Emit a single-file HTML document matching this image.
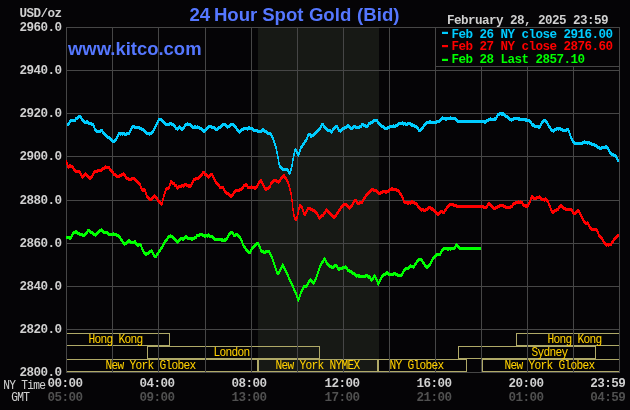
<!DOCTYPE html>
<html lang="en"><head><meta charset="utf-8"><title>24 Hour Spot Gold (Bid)</title>
<style>
html,body{margin:0;padding:0;background:#050406;}
body{width:630px;height:410px;overflow:hidden;}
#chart{display:block;width:630px;height:410px;overflow:hidden;background:#050406;}
#chart svg{display:block;}
text{white-space:pre;}
.m7{font-family:"Liberation Mono",monospace;font-weight:bold;font-size:12.6px;letter-spacing:-0.56px;}
.m6{font-family:"Liberation Mono",monospace;font-weight:normal;font-size:11.2px;letter-spacing:-0.72px;stroke-width:0.05px;}
.ti{font-family:"Liberation Sans",sans-serif;font-weight:bold;font-size:18.6px;}
.kt{font-family:"Liberation Sans",sans-serif;font-weight:bold;font-size:18.45px;}
</style></head><body><div id="chart">
<svg width="630" height="410" viewBox="0 0 630 410">
<rect width="630" height="410" fill="#050406"/>
<rect x="258" y="27" width="121" height="345" fill="#171915"/>
<g fill="none" stroke="#b0aa68" stroke-width="1" shape-rendering="crispEdges">
<rect x="66.5" y="333.5" width="103" height="12"/>
<rect x="516.5" y="333.5" width="103" height="12"/>
<rect x="147.5" y="346.5" width="172" height="12"/>
<rect x="458.5" y="346.5" width="137" height="12"/>
<rect x="66.5" y="359.5" width="191" height="12"/>
<rect x="258.5" y="359.5" width="119" height="12"/>
<rect x="378.5" y="359.5" width="88" height="12"/>
<rect x="482.5" y="359.5" width="137" height="12"/>
</g>
<path d="M66.5 27V373M112.5 27V373M158.5 27V373M205.5 27V373M251.5 27V373M297.5 27V373M343.5 27V373M389.5 27V373M435.5 27V373M481.5 27V373M527.5 27V373M573.5 27V373M619.5 27V373M66 27.5H620M66 70.5H620M66 113.5H620M66 156.5H620M66 200.5H620M66 243.5H620M66 286.5H620M66 329.5H620M66 372.5H620" stroke="#464646" stroke-width="1" fill="none" shape-rendering="crispEdges"/>
<path d="M67 123h1v3h-1zM68 122h1v4h-1zM69 120h1v5h-1zM70 119h1v4h-1zM71 119h4v3h-4zM75 117h1v5h-1zM76 117h1v3h-1zM77 116h1v4h-1zM78 115h1v4h-1zM79 115h1v3h-1zM80 115h1v4h-1zM81 116h1v5h-1zM82 118h1v4h-1zM83 119h1v4h-1zM84 120h1v4h-1zM85 121h1v3h-1zM86 120h2v4h-2zM88 121h1v4h-1zM89 122h2v3h-2zM91 122h1v4h-1zM92 123h1v3h-1zM93 123h1v5h-1zM94 125h1v6h-1zM95 128h1v4h-1zM96 129h1v4h-1zM97 130h3v3h-3zM100 129h1v4h-1zM101 129h1v3h-1zM102 129h1v5h-1zM103 131h1v4h-1zM104 132h1v4h-1zM105 133h1v4h-1zM106 134h1v4h-1zM107 135h1v4h-1zM108 136h1v3h-1zM109 136h1v4h-1zM110 137h1v4h-1zM111 138h1v4h-1zM112 139h1v4h-1zM113 140h1v3h-1zM114 139h1v4h-1zM115 138h1v4h-1zM116 136h1v5h-1zM117 134h1v5h-1zM118 132h1v5h-1zM119 132h1v3h-1zM120 132h1v4h-1zM121 132h1v3h-1zM122 132h1v4h-1zM123 132h1v3h-1zM124 132h1v4h-1zM125 133h1v3h-1zM126 132h1v4h-1zM127 132h2v3h-2zM129 130h1v5h-1zM130 128h1v5h-1zM131 126h1v5h-1zM132 125h1v4h-1zM133 125h1v3h-1zM134 125h1v4h-1zM135 126h4v3h-4zM139 126h1v4h-1zM140 127h1v3h-1zM141 127h1v4h-1zM142 128h1v3h-1zM143 128h1v4h-1zM144 129h1v4h-1zM145 130h1v4h-1zM146 131h1v4h-1zM147 132h2v3h-2zM149 132h1v4h-1zM150 132h1v3h-1zM151 131h1v4h-1zM152 130h1v4h-1zM153 128h1v5h-1zM154 126h1v5h-1zM155 124h1v5h-1zM156 122h1v5h-1zM157 120h1v5h-1zM158 118h1v5h-1zM159 118h2v3h-2zM161 118h1v4h-1zM162 119h1v4h-1zM163 120h1v4h-1zM164 121h1v4h-1zM165 122h1v4h-1zM166 123h3v3h-3zM169 122h1v4h-1zM170 122h1v3h-1zM171 122h1v4h-1zM172 123h1v3h-1zM173 123h1v4h-1zM174 124h1v4h-1zM175 125h1v5h-1zM176 127h1v3h-1zM177 127h1v4h-1zM178 126h1v4h-1zM179 125h1v4h-1zM180 126h1v4h-1zM181 127h2v4h-2zM183 126h1v4h-1zM184 124h1v5h-1zM185 123h1v4h-1zM186 123h1v3h-1zM187 122h1v4h-1zM188 123h2v3h-2zM190 123h1v4h-1zM191 124h1v4h-1zM192 125h1v4h-1zM193 126h1v3h-1zM194 125h2v4h-2zM196 126h1v3h-1zM197 125h1v4h-1zM198 126h1v3h-1zM199 126h1v4h-1zM200 127h1v3h-1zM201 127h1v4h-1zM202 128h1v4h-1zM203 129h2v4h-2zM205 128h1v4h-1zM206 127h1v4h-1zM207 126h1v4h-1zM208 125h1v4h-1zM209 125h2v3h-2zM211 125h1v4h-1zM212 126h2v3h-2zM214 126h1v4h-1zM215 127h1v4h-1zM216 128h1v3h-1zM217 127h1v4h-1zM218 126h1v4h-1zM219 126h1v3h-1zM220 125h1v4h-1zM221 124h1v4h-1zM222 123h1v4h-1zM223 123h2v3h-2zM225 123h1v4h-1zM226 124h1v4h-1zM227 125h1v4h-1zM228 125h1v3h-1zM229 124h1v4h-1zM230 123h1v4h-1zM231 123h2v3h-2zM233 123h1v4h-1zM234 124h1v4h-1zM235 125h1v4h-1zM236 126h1v5h-1zM237 128h1v4h-1zM238 129h1v4h-1zM239 130h1v4h-1zM240 129h1v4h-1zM241 128h1v4h-1zM242 128h1v3h-1zM243 127h1v4h-1zM244 127h3v3h-3zM247 127h1v4h-1zM248 126h2v4h-2zM250 127h2v3h-2zM252 127h1v4h-1zM253 128h1v4h-1zM254 129h3v3h-3zM257 129h1v4h-1zM258 130h3v3h-3zM261 129h1v4h-1zM262 128h2v4h-2zM264 129h1v4h-1zM265 130h1v3h-1zM266 130h1v4h-1zM267 131h1v4h-1zM268 132h2v3h-2zM270 132h1v4h-1zM271 133h1v5h-1zM272 135h1v5h-1zM273 137h1v6h-1zM274 140h1v6h-1zM275 143h1v6h-1zM276 146h1v8h-1zM277 151h1v8h-1zM278 156h1v9h-1zM279 162h1v6h-1zM280 165h1v4h-1zM281 166h1v4h-1zM282 167h1v4h-1zM283 168h4v3h-4zM287 168h1v4h-1zM288 169h1v5h-1zM289 171h1v4h-1zM290 168h1v6h-1zM291 164h1v7h-1zM292 158h1v9h-1zM293 153h1v8h-1zM294 149h1v7h-1zM295 148h1v4h-1zM296 149h1v5h-1zM297 151h1v5h-1zM298 152h1v5h-1zM299 149h1v6h-1zM300 146h1v6h-1zM301 145h1v4h-1zM302 143h1v5h-1zM303 142h1v4h-1zM304 140h1v5h-1zM305 139h1v4h-1zM306 137h1v5h-1zM307 134h1v6h-1zM308 133h1v4h-1zM309 133h1v3h-1zM310 133h1v5h-1zM311 134h1v4h-1zM312 134h1v3h-1zM313 133h1v4h-1zM314 132h1v4h-1zM315 131h1v4h-1zM316 130h1v4h-1zM317 129h1v4h-1zM318 128h1v4h-1zM319 127h1v4h-1zM320 125h1v5h-1zM321 123h1v5h-1zM322 123h1v3h-1zM323 123h1v5h-1zM324 125h1v4h-1zM325 126h1v4h-1zM326 127h1v4h-1zM327 128h1v4h-1zM328 129h2v3h-2zM330 129h1v4h-1zM331 130h1v4h-1zM332 128h1v5h-1zM333 127h1v4h-1zM334 126h1v4h-1zM335 125h1v4h-1zM336 125h1v3h-1zM337 125h1v5h-1zM338 127h1v5h-1zM339 129h1v3h-1zM340 129h1v4h-1zM341 128h1v4h-1zM342 127h1v4h-1zM343 127h1v3h-1zM344 126h1v4h-1zM345 126h1v3h-1zM346 125h1v4h-1zM347 124h2v4h-2zM349 125h1v4h-1zM350 126h1v4h-1zM351 127h1v3h-1zM352 126h1v4h-1zM353 125h1v4h-1zM354 125h1v3h-1zM355 125h1v4h-1zM356 126h3v3h-3zM359 125h1v4h-1zM360 125h1v3h-1zM361 123h1v5h-1zM362 123h1v3h-1zM363 123h1v4h-1zM364 124h1v3h-1zM365 124h1v4h-1zM366 125h1v3h-1zM367 124h1v4h-1zM368 122h1v5h-1zM369 122h1v3h-1zM370 121h1v4h-1zM371 121h1v3h-1zM372 120h1v4h-1zM373 119h1v4h-1zM374 119h3v3h-3zM377 119h1v5h-1zM378 121h1v4h-1zM379 122h1v4h-1zM380 123h1v4h-1zM381 124h1v4h-1zM382 125h1v3h-1zM383 125h1v4h-1zM384 126h1v4h-1zM385 127h2v3h-2zM387 126h1v4h-1zM388 126h1v3h-1zM389 125h1v4h-1zM390 125h3v3h-3zM393 124h1v4h-1zM394 125h1v3h-1zM395 124h1v4h-1zM396 124h1v3h-1zM397 123h1v4h-1zM398 122h1v4h-1zM399 122h3v3h-3zM402 121h1v4h-1zM403 122h1v4h-1zM404 122h1v3h-1zM405 122h1v4h-1zM406 123h1v3h-1zM407 122h1v4h-1zM408 122h2v3h-2zM410 122h1v4h-1zM411 123h2v4h-2zM413 124h1v3h-1zM414 124h1v4h-1zM415 125h1v3h-1zM416 125h1v4h-1zM417 126h1v4h-1zM418 127h1v5h-1zM419 129h1v3h-1zM420 128h1v4h-1zM421 127h1v4h-1zM422 126h1v4h-1zM423 124h1v5h-1zM424 123h1v4h-1zM425 122h1v4h-1zM426 121h1v4h-1zM427 121h2v3h-2zM429 120h2v4h-2zM431 121h5v3h-5zM436 120h1v4h-1zM437 120h2v3h-2zM439 119h1v4h-1zM440 118h1v4h-1zM441 117h1v4h-1zM442 116h1v4h-1zM443 117h2v3h-2zM445 117h2v4h-2zM447 117h3v3h-3zM450 116h1v4h-1zM451 117h4v3h-4zM455 117h1v4h-1zM456 118h1v4h-1zM457 119h1v4h-1zM458 120h26v3h-26zM484 120h2v4h-2zM486 119h1v4h-1zM487 119h1v3h-1zM488 118h1v4h-1zM489 118h1v3h-1zM490 117h1v4h-1zM491 118h3v3h-3zM494 117h2v4h-2zM496 115h1v5h-1zM497 113h1v5h-1zM498 113h1v3h-1zM499 112h1v4h-1zM500 112h1v3h-1zM501 112h3v4h-3zM504 113h1v4h-1zM505 114h1v4h-1zM506 115h1v3h-1zM507 115h1v4h-1zM508 116h1v4h-1zM509 117h1v4h-1zM510 118h1v3h-1zM511 118h1v4h-1zM512 118h1v3h-1zM513 117h1v4h-1zM514 117h4v3h-4zM518 117h2v4h-2zM520 118h5v3h-5zM525 118h2v4h-2zM527 119h2v3h-2zM529 119h1v4h-1zM530 120h1v4h-1zM531 121h1v5h-1zM532 123h2v4h-2zM534 124h1v4h-1zM535 125h3v3h-3zM538 125h2v4h-2zM540 123h1v5h-1zM541 121h1v5h-1zM542 120h1v4h-1zM543 119h1v4h-1zM544 119h1v3h-1zM545 119h1v4h-1zM546 120h1v4h-1zM547 121h1v5h-1zM548 123h1v5h-1zM549 125h1v4h-1zM550 126h1v5h-1zM551 128h1v4h-1zM552 129h1v3h-1zM553 129h1v4h-1zM554 128h1v4h-1zM555 128h1v3h-1zM556 127h1v4h-1zM557 127h1v3h-1zM558 127h1v4h-1zM559 127h1v3h-1zM560 127h1v4h-1zM561 128h1v3h-1zM562 128h1v4h-1zM563 129h3v3h-3zM566 128h1v4h-1zM567 128h1v3h-1zM568 128h1v5h-1zM569 130h1v6h-1zM570 133h1v6h-1zM571 136h1v5h-1zM572 138h1v5h-1zM573 140h1v4h-1zM574 141h1v4h-1zM575 142h7v3h-7zM582 141h1v4h-1zM583 141h1v3h-1zM584 140h1v4h-1zM585 141h2v3h-2zM587 141h1v4h-1zM588 141h1v3h-1zM589 141h1v4h-1zM590 142h1v3h-1zM591 142h1v4h-1zM592 143h2v3h-2zM594 143h1v4h-1zM595 144h1v3h-1zM596 144h1v4h-1zM597 145h1v4h-1zM598 146h1v3h-1zM599 146h1v4h-1zM600 147h1v3h-1zM601 146h1v4h-1zM602 146h3v3h-3zM605 145h2v4h-2zM607 146h1v4h-1zM608 147h1v5h-1zM609 149h1v5h-1zM610 151h1v4h-1zM611 152h1v4h-1zM612 153h1v3h-1zM613 153h1v4h-1zM614 154h1v3h-1zM615 154h1v4h-1zM616 155h1v5h-1zM617 157h1v5h-1zM618 159h1v3h-1z" fill="#00ccff" shape-rendering="crispEdges"/>
<path d="M66 160h1v5h-1zM67 162h1v6h-1zM68 165h1v4h-1zM69 164h2v4h-2zM71 165h1v3h-1zM72 165h1v4h-1zM73 166h1v5h-1zM74 168h1v4h-1zM75 169h1v4h-1zM76 170h3v3h-3zM79 170h1v4h-1zM80 171h1v5h-1zM81 173h1v5h-1zM82 175h1v4h-1zM83 174h1v4h-1zM84 173h1v4h-1zM85 172h1v4h-1zM86 173h1v4h-1zM87 174h1v4h-1zM88 175h1v4h-1zM89 176h2v4h-2zM91 175h1v4h-1zM92 173h1v5h-1zM93 171h1v5h-1zM94 170h1v4h-1zM95 170h2v3h-2zM97 169h1v4h-1zM98 169h3v3h-3zM101 168h1v4h-1zM102 167h1v4h-1zM103 167h1v3h-1zM104 166h1v4h-1zM105 165h1v4h-1zM106 166h3v3h-3zM109 166h1v5h-1zM110 168h1v4h-1zM111 169h1v4h-1zM112 170h1v4h-1zM113 171h1v5h-1zM114 173h1v3h-1zM115 173h1v4h-1zM116 174h1v4h-1zM117 175h2v3h-2zM119 174h1v4h-1zM120 174h1v3h-1zM121 173h1v4h-1zM122 173h1v3h-1zM123 172h1v4h-1zM124 173h1v4h-1zM125 174h1v5h-1zM126 176h1v4h-1zM127 177h1v3h-1zM128 177h1v4h-1zM129 178h2v3h-2zM131 177h1v4h-1zM132 177h2v3h-2zM134 177h1v4h-1zM135 178h1v4h-1zM136 179h1v4h-1zM137 180h1v4h-1zM138 181h1v4h-1zM139 182h1v4h-1zM140 183h1v6h-1zM141 186h1v5h-1zM142 188h3v4h-3zM145 189h1v6h-1zM146 192h1v6h-1zM147 195h1v4h-1zM148 196h1v4h-1zM149 197h1v4h-1zM150 198h1v3h-1zM151 197h1v4h-1zM152 196h1v4h-1zM153 195h1v4h-1zM154 194h1v4h-1zM155 195h1v4h-1zM156 196h1v4h-1zM157 197h1v5h-1zM158 199h1v4h-1zM159 200h1v4h-1zM160 201h1v4h-1zM161 202h1v4h-1zM162 198h1v7h-1zM163 194h1v7h-1zM164 191h1v6h-1zM165 188h1v6h-1zM166 187h1v4h-1zM167 187h1v3h-1zM168 186h1v4h-1zM169 183h1v6h-1zM170 180h1v6h-1zM171 180h1v4h-1zM172 181h1v4h-1zM173 182h1v3h-1zM174 182h1v5h-1zM175 184h1v3h-1zM176 184h1v5h-1zM177 186h1v4h-1zM178 185h1v4h-1zM179 185h2v3h-2zM181 184h1v4h-1zM182 184h1v3h-1zM183 184h1v4h-1zM184 183h1v4h-1zM185 183h1v3h-1zM186 183h1v4h-1zM187 184h1v3h-1zM188 184h3v4h-3zM191 182h1v5h-1zM192 180h1v5h-1zM193 178h1v5h-1zM194 178h1v3h-1zM195 177h1v4h-1zM196 177h2v3h-2zM198 176h1v4h-1zM199 175h1v4h-1zM200 174h1v4h-1zM201 173h1v4h-1zM202 171h1v5h-1zM203 171h1v3h-1zM204 171h1v5h-1zM205 173h1v3h-1zM206 173h1v4h-1zM207 174h1v4h-1zM208 175h1v4h-1zM209 174h1v4h-1zM210 173h1v4h-1zM211 173h1v3h-1zM212 173h1v5h-1zM213 175h1v5h-1zM214 177h1v5h-1zM215 179h1v5h-1zM216 181h1v4h-1zM217 182h1v4h-1zM218 183h1v4h-1zM219 184h1v5h-1zM220 186h3v3h-3zM223 186h1v5h-1zM224 188h1v5h-1zM225 190h1v4h-1zM226 191h1v4h-1zM227 192h1v3h-1zM228 192h1v4h-1zM229 193h1v4h-1zM230 194h2v4h-2zM232 193h1v4h-1zM233 191h1v5h-1zM234 190h1v4h-1zM235 189h1v4h-1zM236 189h3v3h-3zM239 188h1v4h-1zM240 188h1v3h-1zM241 187h1v4h-1zM242 186h1v4h-1zM243 184h1v5h-1zM244 184h1v3h-1zM245 183h2v4h-2zM247 184h1v5h-1zM248 186h3v3h-3zM251 185h1v4h-1zM252 186h2v3h-2zM254 186h2v4h-2zM256 185h1v4h-1zM257 183h1v5h-1zM258 181h1v5h-1zM259 180h1v4h-1zM260 179h1v4h-1zM261 179h1v5h-1zM262 181h1v5h-1zM263 183h1v5h-1zM264 185h1v5h-1zM265 187h2v4h-2zM267 187h1v3h-1zM268 186h1v4h-1zM269 185h1v4h-1zM270 182h1v6h-1zM271 181h1v4h-1zM272 180h1v4h-1zM273 179h1v4h-1zM274 179h2v3h-2zM276 179h1v4h-1zM277 180h1v3h-1zM278 180h1v4h-1zM279 179h1v4h-1zM280 177h1v5h-1zM281 176h1v4h-1zM282 175h1v4h-1zM283 174h1v4h-1zM284 174h1v5h-1zM285 176h1v4h-1zM286 177h1v5h-1zM287 179h1v5h-1zM288 181h1v6h-1zM289 184h1v7h-1zM290 188h1v7h-1zM291 192h1v10h-1zM292 199h1v12h-1zM293 208h1v9h-1zM294 214h1v6h-1zM295 217h1v4h-1zM296 216h1v5h-1zM297 212h1v7h-1zM298 207h1v8h-1zM299 204h1v6h-1zM300 204h1v4h-1zM301 205h1v4h-1zM302 206h1v6h-1zM303 209h1v6h-1zM304 212h1v4h-1zM305 211h1v5h-1zM306 209h1v5h-1zM307 207h1v5h-1zM308 207h2v3h-2zM310 207h1v4h-1zM311 208h1v3h-1zM312 208h1v4h-1zM313 209h1v3h-1zM314 209h1v4h-1zM315 210h1v4h-1zM316 211h1v4h-1zM317 212h1v5h-1zM318 214h1v5h-1zM319 216h1v4h-1zM320 215h1v4h-1zM321 214h1v4h-1zM322 214h1v3h-1zM323 212h1v5h-1zM324 211h1v4h-1zM325 209h1v5h-1zM326 208h1v4h-1zM327 209h1v4h-1zM328 210h1v4h-1zM329 211h1v4h-1zM330 212h1v4h-1zM331 213h1v4h-1zM332 214h1v4h-1zM333 215h2v4h-2zM335 214h1v4h-1zM336 212h1v5h-1zM337 211h1v4h-1zM338 209h1v5h-1zM339 208h1v4h-1zM340 206h1v5h-1zM341 205h1v4h-1zM342 204h1v4h-1zM343 203h1v4h-1zM344 203h2v3h-2zM346 203h1v4h-1zM347 204h1v4h-1zM348 205h1v4h-1zM349 206h1v4h-1zM350 205h1v4h-1zM351 204h1v4h-1zM352 202h1v5h-1zM353 200h1v5h-1zM354 199h1v4h-1zM355 199h1v3h-1zM356 199h1v5h-1zM357 201h1v4h-1zM358 202h1v3h-1zM359 201h1v4h-1zM360 201h2v3h-2zM362 199h1v5h-1zM363 197h1v5h-1zM364 196h1v4h-1zM365 194h1v5h-1zM366 193h1v4h-1zM367 192h1v4h-1zM368 191h1v4h-1zM369 190h1v4h-1zM370 189h1v4h-1zM371 188h1v4h-1zM372 188h1v3h-1zM373 188h1v4h-1zM374 189h2v3h-2zM376 189h1v4h-1zM377 190h1v4h-1zM378 191h1v4h-1zM379 192h1v3h-1zM380 191h1v4h-1zM381 191h1v3h-1zM382 190h1v4h-1zM383 190h2v3h-2zM385 190h2v4h-2zM387 190h1v3h-1zM388 189h1v4h-1zM389 188h1v4h-1zM390 188h1v3h-1zM391 187h2v4h-2zM393 188h3v3h-3zM396 188h1v4h-1zM397 189h1v3h-1zM398 189h1v4h-1zM399 190h1v5h-1zM400 192h1v4h-1zM401 193h1v5h-1zM402 195h1v5h-1zM403 197h1v6h-1zM404 200h1v4h-1zM405 201h2v3h-2zM407 201h2v4h-2zM409 201h1v3h-1zM410 201h1v4h-1zM411 200h2v4h-2zM413 201h1v3h-1zM414 201h1v4h-1zM415 202h1v3h-1zM416 202h1v4h-1zM417 203h1v5h-1zM418 205h1v4h-1zM419 206h1v4h-1zM420 207h1v4h-1zM421 208h1v4h-1zM422 208h1v3h-1zM423 208h1v4h-1zM424 209h1v3h-1zM425 208h1v4h-1zM426 208h1v3h-1zM427 207h1v4h-1zM428 206h1v4h-1zM429 206h1v3h-1zM430 206h1v4h-1zM431 207h2v4h-2zM433 208h1v4h-1zM434 209h1v4h-1zM435 210h1v4h-1zM436 211h1v4h-1zM437 212h2v4h-2zM439 211h1v4h-1zM440 210h1v4h-1zM441 210h1v3h-1zM442 210h1v4h-1zM443 211h1v3h-1zM444 209h1v5h-1zM445 208h1v4h-1zM446 206h1v5h-1zM447 205h1v4h-1zM448 204h1v4h-1zM449 203h1v4h-1zM450 203h3v3h-3zM453 203h1v4h-1zM454 204h2v3h-2zM456 204h1v4h-1zM457 205h26v3h-26zM483 205h1v4h-1zM484 206h2v3h-2zM486 205h1v4h-1zM487 203h1v5h-1zM488 202h2v4h-2zM490 203h1v4h-1zM491 204h1v4h-1zM492 205h1v4h-1zM493 206h1v4h-1zM494 207h1v3h-1zM495 206h1v4h-1zM496 206h1v3h-1zM497 205h1v4h-1zM498 205h1v3h-1zM499 204h1v4h-1zM500 204h3v3h-3zM503 204h1v4h-1zM504 205h1v3h-1zM505 205h1v4h-1zM506 206h4v3h-4zM510 205h1v4h-1zM511 205h1v3h-1zM512 203h1v5h-1zM513 202h1v4h-1zM514 202h1v3h-1zM515 201h1v4h-1zM516 201h2v3h-2zM518 200h1v4h-1zM519 201h1v3h-1zM520 200h1v4h-1zM521 201h1v3h-1zM522 201h1v5h-1zM523 203h1v4h-1zM524 204h1v3h-1zM525 204h3v4h-3zM528 202h1v5h-1zM529 200h1v5h-1zM530 197h1v6h-1zM531 195h1v5h-1zM532 195h1v4h-1zM533 196h1v4h-1zM534 197h2v3h-2zM536 196h1v4h-1zM537 196h2v3h-2zM539 195h1v4h-1zM540 196h1v4h-1zM541 197h1v4h-1zM542 198h2v3h-2zM544 198h1v4h-1zM545 197h1v4h-1zM546 198h1v4h-1zM547 199h1v4h-1zM548 200h1v6h-1zM549 203h1v5h-1zM550 205h1v6h-1zM551 208h1v5h-1zM552 210h2v4h-2zM554 209h1v4h-1zM555 209h1v3h-1zM556 208h1v4h-1zM557 208h1v3h-1zM558 206h1v5h-1zM559 205h1v4h-1zM560 204h2v4h-2zM562 205h1v4h-1zM563 206h1v4h-1zM564 207h1v3h-1zM565 207h1v4h-1zM566 208h5v3h-5zM571 208h1v4h-1zM572 209h1v5h-1zM573 211h1v4h-1zM574 212h1v3h-1zM575 211h1v4h-1zM576 210h1v4h-1zM577 209h2v4h-2zM579 210h1v5h-1zM580 212h1v5h-1zM581 214h1v5h-1zM582 216h1v5h-1zM583 218h1v5h-1zM584 220h1v4h-1zM585 221h1v4h-1zM586 222h1v3h-1zM587 221h1v4h-1zM588 222h1v5h-1zM589 224h1v5h-1zM590 226h1v4h-1zM591 227h1v4h-1zM592 228h4v3h-4zM596 228h1v4h-1zM597 229h1v5h-1zM598 231h1v6h-1zM599 234h1v4h-1zM600 235h1v4h-1zM601 236h1v4h-1zM602 237h1v5h-1zM603 239h1v5h-1zM604 241h1v4h-1zM605 242h1v4h-1zM606 243h1v4h-1zM607 243h1v3h-1zM608 243h1v4h-1zM609 243h2v3h-2zM611 241h1v5h-1zM612 240h1v4h-1zM613 238h1v5h-1zM614 237h1v4h-1zM615 236h1v4h-1zM616 235h1v4h-1zM617 234h1v4h-1zM618 234h1v3h-1z" fill="#ff0000" shape-rendering="crispEdges"/>
<path d="M66 236h3v3h-3zM69 236h2v4h-2zM71 234h1v5h-1zM72 232h1v5h-1zM73 231h1v4h-1zM74 231h1v3h-1zM75 230h2v4h-2zM77 231h1v4h-1zM78 232h1v3h-1zM79 232h1v4h-1zM80 233h2v3h-2zM82 233h1v4h-1zM83 234h1v3h-1zM84 233h1v4h-1zM85 232h1v4h-1zM86 231h1v4h-1zM87 229h1v5h-1zM88 229h1v3h-1zM89 229h1v4h-1zM90 230h1v4h-1zM91 231h1v3h-1zM92 231h1v4h-1zM93 232h1v4h-1zM94 233h1v3h-1zM95 233h1v4h-1zM96 232h1v4h-1zM97 231h1v4h-1zM98 230h1v4h-1zM99 229h1v4h-1zM100 229h1v3h-1zM101 228h1v4h-1zM102 229h1v4h-1zM103 230h1v4h-1zM104 231h3v3h-3zM107 231h1v4h-1zM108 232h1v4h-1zM109 233h4v3h-4zM113 232h1v4h-1zM114 233h2v3h-2zM116 233h1v4h-1zM117 234h1v3h-1zM118 234h1v4h-1zM119 235h1v4h-1zM120 236h1v5h-1zM121 238h1v4h-1zM122 239h1v5h-1zM123 241h1v4h-1zM124 242h1v4h-1zM125 242h1v3h-1zM126 241h1v4h-1zM127 240h1v4h-1zM128 239h2v4h-2zM130 240h1v4h-1zM131 241h3v3h-3zM134 240h1v4h-1zM135 240h1v5h-1zM136 242h1v4h-1zM137 243h2v4h-2zM139 243h1v3h-1zM140 243h1v4h-1zM141 244h1v6h-1zM142 247h1v5h-1zM143 249h1v5h-1zM144 251h1v4h-1zM145 252h2v4h-2zM147 252h1v3h-1zM148 251h1v4h-1zM149 250h1v4h-1zM150 250h1v3h-1zM151 249h1v4h-1zM152 250h1v5h-1zM153 252h1v5h-1zM154 254h1v4h-1zM155 255h1v3h-1zM156 253h1v5h-1zM157 252h1v4h-1zM158 250h1v5h-1zM159 249h1v4h-1zM160 247h1v5h-1zM161 246h1v4h-1zM162 244h1v5h-1zM163 242h1v5h-1zM164 240h1v5h-1zM165 239h1v4h-1zM166 238h1v4h-1zM167 236h1v5h-1zM168 235h1v4h-1zM169 235h1v3h-1zM170 234h1v4h-1zM171 235h1v3h-1zM172 235h1v4h-1zM173 236h1v4h-1zM174 237h1v4h-1zM175 238h1v4h-1zM176 239h1v4h-1zM177 240h1v4h-1zM178 239h1v4h-1zM179 238h1v4h-1zM180 237h1v4h-1zM181 237h1v3h-1zM182 237h2v4h-2zM184 236h1v4h-1zM185 235h2v4h-2zM187 236h1v4h-1zM188 237h3v3h-3zM191 237h2v4h-2zM193 237h1v3h-1zM194 236h1v4h-1zM195 236h1v3h-1zM196 234h1v5h-1zM197 234h2v3h-2zM199 233h1v4h-1zM200 233h2v3h-2zM202 233h1v4h-1zM203 234h1v3h-1zM204 234h2v4h-2zM206 234h1v3h-1zM207 234h1v4h-1zM208 233h1v4h-1zM209 234h1v4h-1zM210 235h2v3h-2zM212 235h1v4h-1zM213 236h1v4h-1zM214 237h1v4h-1zM215 238h6v3h-6zM221 238h2v4h-2zM223 239h1v3h-1zM224 238h2v4h-2zM226 237h1v4h-1zM227 235h1v5h-1zM228 233h1v5h-1zM229 232h1v4h-1zM230 231h1v4h-1zM231 231h1v3h-1zM232 231h1v4h-1zM233 232h1v5h-1zM234 234h1v3h-1zM235 233h1v4h-1zM236 233h1v3h-1zM237 233h1v4h-1zM238 234h1v4h-1zM239 235h1v4h-1zM240 236h1v5h-1zM241 238h1v5h-1zM242 240h1v6h-1zM243 243h1v5h-1zM244 245h1v4h-1zM245 246h1v5h-1zM246 248h1v4h-1zM247 249h1v4h-1zM248 250h1v4h-1zM249 251h1v3h-1zM250 249h1v5h-1zM251 247h1v5h-1zM252 246h1v4h-1zM253 245h1v4h-1zM254 244h1v4h-1zM255 243h1v4h-1zM256 242h1v4h-1zM257 242h1v3h-1zM258 242h1v5h-1zM259 244h1v5h-1zM260 246h1v6h-1zM261 249h1v4h-1zM262 250h1v3h-1zM263 250h1v4h-1zM264 251h1v3h-1zM265 250h1v4h-1zM266 250h3v3h-3zM269 250h1v5h-1zM270 252h1v5h-1zM271 254h1v5h-1zM272 256h1v6h-1zM273 259h1v6h-1zM274 262h1v6h-1zM275 265h1v6h-1zM276 268h1v6h-1zM277 271h2v4h-2zM279 269h1v5h-1zM280 267h1v5h-1zM281 265h1v5h-1zM282 263h1v5h-1zM283 264h1v5h-1zM284 266h1v5h-1zM285 268h1v5h-1zM286 270h1v5h-1zM287 272h1v5h-1zM288 274h1v6h-1zM289 277h1v5h-1zM290 279h1v5h-1zM291 281h1v5h-1zM292 283h1v5h-1zM293 285h1v6h-1zM294 288h1v5h-1zM295 290h1v5h-1zM296 292h1v6h-1zM297 295h1v6h-1zM298 297h1v5h-1zM299 294h1v6h-1zM300 291h1v6h-1zM301 289h1v5h-1zM302 287h1v5h-1zM303 285h1v5h-1zM304 285h2v3h-2zM306 284h1v4h-1zM307 282h1v5h-1zM308 280h1v5h-1zM309 279h1v4h-1zM310 278h1v4h-1zM311 279h1v4h-1zM312 280h1v4h-1zM313 281h1v4h-1zM314 279h1v5h-1zM315 277h1v5h-1zM316 274h1v6h-1zM317 271h1v6h-1zM318 268h1v6h-1zM319 265h1v6h-1zM320 263h1v5h-1zM321 261h1v5h-1zM322 260h1v4h-1zM323 258h1v5h-1zM324 257h1v4h-1zM325 258h1v5h-1zM326 260h1v5h-1zM327 262h1v4h-1zM328 263h1v4h-1zM329 264h1v4h-1zM330 265h1v3h-1zM331 265h1v4h-1zM332 266h1v3h-1zM333 265h1v4h-1zM334 264h1v4h-1zM335 264h1v3h-1zM336 264h1v4h-1zM337 265h1v5h-1zM338 267h2v4h-2zM340 267h2v3h-2zM342 266h1v4h-1zM343 266h2v3h-2zM345 265h1v4h-1zM346 266h1v4h-1zM347 267h1v5h-1zM348 269h1v3h-1zM349 269h1v4h-1zM350 270h1v3h-1zM351 270h1v4h-1zM352 271h1v4h-1zM353 272h1v3h-1zM354 272h1v4h-1zM355 273h1v4h-1zM356 274h1v4h-1zM357 274h1v3h-1zM358 274h2v4h-2zM360 275h5v3h-5zM365 274h1v4h-1zM366 274h1v3h-1zM367 274h1v4h-1zM368 275h2v4h-2zM370 276h1v5h-1zM371 278h1v4h-1zM372 277h1v4h-1zM373 275h1v5h-1zM374 274h1v4h-1zM375 275h1v5h-1zM376 277h1v5h-1zM377 279h1v6h-1zM378 281h1v5h-1zM379 279h1v5h-1zM380 277h1v5h-1zM381 275h1v5h-1zM382 274h1v4h-1zM383 273h1v4h-1zM384 273h1v3h-1zM385 272h1v4h-1zM386 271h2v4h-2zM388 272h1v4h-1zM389 273h4v3h-4zM393 272h1v4h-1zM394 272h1v3h-1zM395 272h1v4h-1zM396 273h1v3h-1zM397 273h1v4h-1zM398 274h3v3h-3zM401 273h1v4h-1zM402 271h1v5h-1zM403 269h1v5h-1zM404 268h1v4h-1zM405 267h1v4h-1zM406 267h2v3h-2zM408 266h1v4h-1zM409 265h1v4h-1zM410 264h1v4h-1zM411 265h2v3h-2zM413 265h1v4h-1zM414 263h1v5h-1zM415 262h1v4h-1zM416 260h1v5h-1zM417 259h1v4h-1zM418 258h1v4h-1zM419 258h2v3h-2zM421 258h1v4h-1zM422 259h1v5h-1zM423 261h1v4h-1zM424 262h1v5h-1zM425 264h1v4h-1zM426 265h2v4h-2zM428 264h1v4h-1zM429 263h1v4h-1zM430 261h1v5h-1zM431 259h1v5h-1zM432 257h1v5h-1zM433 256h1v4h-1zM434 255h1v4h-1zM435 254h1v4h-1zM436 253h1v4h-1zM437 253h3v3h-3zM440 251h1v5h-1zM441 249h1v5h-1zM442 248h1v4h-1zM443 247h1v4h-1zM444 247h3v3h-3zM447 247h2v4h-2zM449 247h1v3h-1zM450 247h1v4h-1zM451 247h3v3h-3zM454 246h1v4h-1zM455 244h1v5h-1zM456 243h1v4h-1zM457 244h1v4h-1zM458 245h1v4h-1zM459 246h1v4h-1zM460 247h21v3h-21z" fill="#00ff00" shape-rendering="crispEdges"/>
<rect x="435.5" y="27.5" width="184" height="39" fill="#050406" stroke="#464646" shape-rendering="crispEdges"/>
<text class="ti" y="21.4" fill="#5577ff"><tspan x="189.5">24 </tspan><tspan x="213.9">Hour </tspan><tspan x="262.2">Spot </tspan><tspan x="308.9">Gold </tspan><tspan x="357.1">(Bid)</tspan></text>
<text class="kt" x="68" y="55" fill="#5577ff">www.kitco.com</text>
<text class="m7" transform="translate(19.5 17) scale(1 0.96)" fill="#d0d0d0">USD/oz</text>
<text class="m7" transform="translate(19.4 31.3) scale(1 0.96)" fill="#d0d0d0">2960.0</text>
<text class="m7" transform="translate(19.4 74.3) scale(1 0.96)" fill="#d0d0d0">2940.0</text>
<text class="m7" transform="translate(19.4 117.3) scale(1 0.96)" fill="#d0d0d0">2920.0</text>
<text class="m7" transform="translate(19.4 160.3) scale(1 0.96)" fill="#d0d0d0">2900.0</text>
<text class="m7" transform="translate(19.4 204.3) scale(1 0.96)" fill="#d0d0d0">2880.0</text>
<text class="m7" transform="translate(19.4 247.3) scale(1 0.96)" fill="#d0d0d0">2860.0</text>
<text class="m7" transform="translate(19.4 290.3) scale(1 0.96)" fill="#d0d0d0">2840.0</text>
<text class="m7" transform="translate(19.4 333.3) scale(1 0.96)" fill="#d0d0d0">2820.0</text>
<text class="m7" transform="translate(19.4 376.3) scale(1 0.96)" fill="#d0d0d0">2800.0</text>
<text class="m7" transform="translate(447 24.2) scale(1 0.96)" fill="#d0d0d0">February 28, 2025 23:59</text>
<rect x="442" y="31.8" width="6" height="2.2" fill="#00ccff"/>
<text class="m7" transform="translate(451.5 37.8) scale(1 0.96)" fill="#00ccff">Feb 26 NY close 2916.00</text>
<rect x="442" y="45.0" width="6" height="2.2" fill="#ff0000"/>
<text class="m7" transform="translate(451.5 50.0) scale(1 0.96)" fill="#ff0000">Feb 27 NY close 2876.60</text>
<rect x="442" y="58.8" width="6" height="2.2" fill="#00ff00"/>
<text class="m7" transform="translate(451.5 63.0) scale(1 0.96)" fill="#00ff00">Feb 28 Last 2857.10</text>
<text class="m7" transform="translate(47.4 387.3) scale(1 0.96)" fill="#d0d0d0">00:00</text>
<text class="m7" transform="translate(47.4 401) scale(1 0.96)" fill="#505050">05:00</text>
<text class="m7" transform="translate(139.4 387.3) scale(1 0.96)" fill="#d0d0d0">04:00</text>
<text class="m7" transform="translate(139.4 401) scale(1 0.96)" fill="#505050">09:00</text>
<text class="m7" transform="translate(231.4 387.3) scale(1 0.96)" fill="#d0d0d0">08:00</text>
<text class="m7" transform="translate(231.4 401) scale(1 0.96)" fill="#505050">13:00</text>
<text class="m7" transform="translate(324.4 387.3) scale(1 0.96)" fill="#d0d0d0">12:00</text>
<text class="m7" transform="translate(324.4 401) scale(1 0.96)" fill="#505050">17:00</text>
<text class="m7" transform="translate(416.4 387.3) scale(1 0.96)" fill="#d0d0d0">16:00</text>
<text class="m7" transform="translate(416.4 401) scale(1 0.96)" fill="#505050">21:00</text>
<text class="m7" transform="translate(508.4 387.3) scale(1 0.96)" fill="#d0d0d0">20:00</text>
<text class="m7" transform="translate(508.4 401) scale(1 0.96)" fill="#505050">01:00</text>
<text class="m7" transform="translate(590.2 387.3) scale(1 0.96)" fill="#d0d0d0">23:59</text>
<text class="m7" transform="translate(590.2 401) scale(1 0.96)" fill="#505050">04:59</text>
<text class="m6" transform="translate(3.2 389.2) scale(1 1.08)" fill="#d0d0d0" stroke="#d0d0d0">NY Time</text>
<text class="m6" transform="translate(11.2 401) scale(1 1.08)" fill="#d0d0d0" stroke="#d0d0d0">GMT</text>
<text class="m6" transform="translate(88.6 343.2) scale(1 1.08)" fill="#ffd000" stroke="#ffd000">Hong Kong</text>
<text class="m6" transform="translate(213.6 356.2) scale(1 1.08)" fill="#ffd000" stroke="#ffd000">London</text>
<text class="m6" transform="translate(105.6 369) scale(1 1.08)" fill="#ffd000" stroke="#ffd000">New York Globex</text>
<text class="m6" transform="translate(275.6 369) scale(1 1.08)" fill="#ffd000" stroke="#ffd000">New York NYMEX</text>
<text class="m6" transform="translate(389.6 369) scale(1 1.08)" fill="#ffd000" stroke="#ffd000">NY Globex</text>
<text class="m6" transform="translate(504.6 369) scale(1 1.08)" fill="#ffd000" stroke="#ffd000">New York Globex</text>
<text class="m6" transform="translate(531.6 356.2) scale(1 1.08)" fill="#ffd000" stroke="#ffd000">Sydney</text>
<text class="m6" transform="translate(547.6 343.2) scale(1 1.08)" fill="#ffd000" stroke="#ffd000">Hong Kong</text>
</svg>
</div></body></html>
